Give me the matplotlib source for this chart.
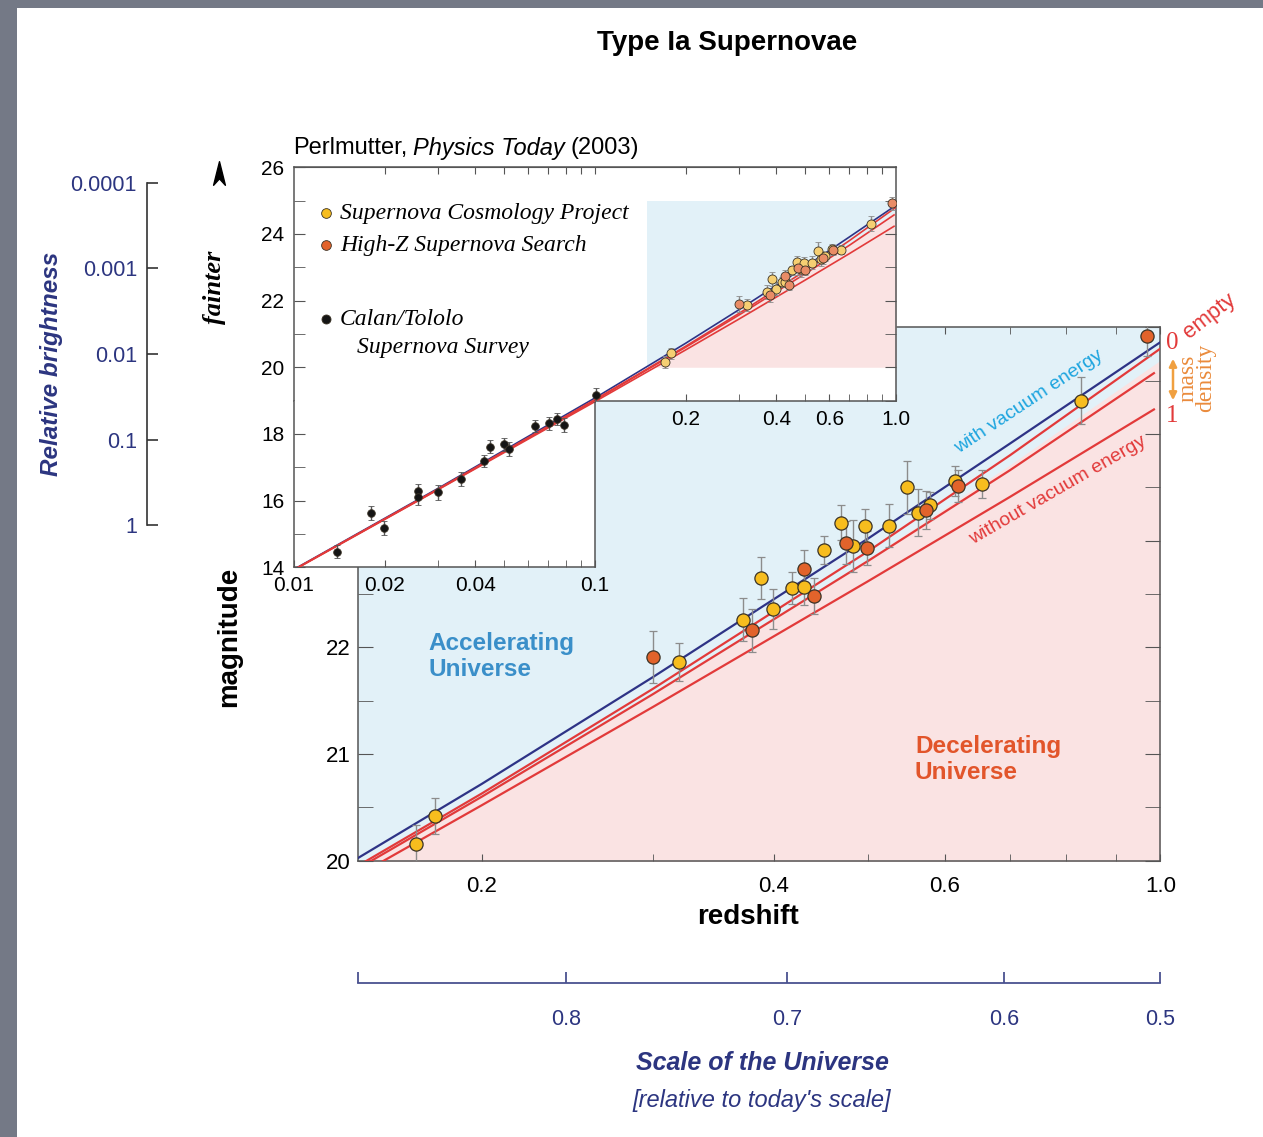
import numpy as np
import matplotlib.pyplot as plt
from matplotlib.lines import Line2D
from matplotlib.patches import Rectangle, FancyArrowPatch
from matplotlib.path import Path
from matplotlib.ticker import NullLocator, NullFormatter

plt.rcParams['font.family'] = ['Liberation Sans', 'DejaVu Sans']

W, H = 1263, 1137

# Supernova Cosmology Project (yellow)
scp_z = [0.171, 0.179, 0.319, 0.372, 0.388, 0.399, 0.417, 0.429, 0.450, 0.469,
         0.482, 0.496, 0.525, 0.549, 0.563, 0.579, 0.614, 0.655, 0.829]
scp_m = [20.16, 20.42, 21.86, 22.26, 22.65, 22.36, 22.56, 22.57, 22.91, 23.17,
         22.95, 23.14, 23.14, 23.50, 23.26, 23.33, 23.56, 23.53, 24.31]
scp_err = [0.17, 0.17, 0.18, 0.20, 0.20, 0.19, 0.15, 0.17, 0.13, 0.16,
           0.24, 0.16, 0.20, 0.25, 0.22, 0.13, 0.14, 0.13, 0.22]

# High-Z Supernova Search (orange)
hz_z = [0.300, 0.380, 0.429, 0.440, 0.474, 0.499, 0.573, 0.619, 0.969]
hz_m = [21.91, 22.16, 22.73, 22.48, 22.98, 22.93, 23.29, 23.51, 24.92]
hz_err = [0.24, 0.20, 0.18, 0.17, 0.20, 0.16, 0.18, 0.15, 0.19]

# Calan/Tololo Supernova Survey (black)
ct_z = [0.0139, 0.0180, 0.0199, 0.0258, 0.0258, 0.0300, 0.0359, 0.0428,
        0.0449, 0.0498, 0.0518, 0.0631, 0.0706, 0.0750, 0.0789, 0.1006]
ct_m = [14.47, 15.62, 15.19, 16.29, 16.10, 16.25, 16.65, 17.20,
        17.62, 17.69, 17.55, 18.24, 18.32, 18.44, 18.27, 19.17]
ct_err = [0.20, 0.21, 0.21, 0.21, 0.24, 0.22, 0.22, 0.18,
          0.20, 0.20, 0.20, 0.18, 0.19, 0.18, 0.20, 0.22]

# model curves
model_z = [0.01, 0.03, 0.1, 0.2, 0.3, 0.5, 0.7, 1.0]
vacuum_m = [13.94, 16.36, 19.08, 20.72, 21.72, 23.02, 23.91, 24.86]
empty_m = [13.93, 16.34, 19.03, 20.63, 21.61, 22.90, 23.80, 24.80]
short_z = [0.01, 0.03, 0.1, 0.2, 0.3, 0.5, 0.7, 0.985]
halfmass_m = [13.93, 16.33, 19.01, 20.60, 21.56, 22.81, 23.66, 24.57]
fullmass_m = [13.92, 16.32, 18.97, 20.52, 21.44, 22.62, 23.41, 24.23]

# accelerating / decelerating boundary
edge_z = [0.149, 0.2, 0.3, 0.5, 0.7, 1.0]
edge_m = [19.94, 20.60, 21.56, 22.83, 23.71, 24.69]

main_zlim = (0.149, 1.0)
main_mlim = (20, 25)
main_zticks = [0.2, 0.4, 0.6, 1.0]
main_zlabels = ['0.2', '0.4', '0.6', '1.0']
main_zminor = [0.3, 0.5, 0.7, 0.8, 0.9]
main_mticks = [20, 21, 22, 23, 24, 25]
main_mlabels = ['20', '21', '22', '', '', '']  # 23-25 sit behind the inset
main_mminor = [20.5, 21.5, 22.5, 23.5, 24.5]

lo_zticks = [0.01, 0.02, 0.04, 0.1]
lo_zlabels = ['0.01', '0.02', '0.04', '0.1']
lo_zminor = [0.03, 0.05, 0.06, 0.07, 0.08, 0.09]
top_zticks = [0.02, 0.03, 0.04, 0.05, 0.06, 0.07, 0.08, 0.09, 0.1,
              0.2, 0.3, 0.4, 0.5, 0.6, 0.7, 0.8, 0.9]

brightness = [1, 0.1, 0.01, 0.001, 0.0001]
brightness_labels = ['1', '0.1', '0.01', '0.001', '0.0001']

scale_z = [0.244, 0.413, 0.69, 1.0]
scale_labels = ['0.8', '0.7', '0.6', '0.5']

SKY = '#e2f1f8'
PINK = '#fae3e3'
BLUE = '#2e3386'
RED = '#e23a3a'
NAVY = '#2c3580'
SPINE = '#555555'
YEL = '#f7bd1e'
ORA = '#e2632b'
YEL_PALE = '#f6cf72'
ORA_PALE = '#e98c66'


def fx(x):
    return x / W


def fy(y):
    return 1 - y / H


def draw_models(ax, lw):
    ax.plot(model_z, vacuum_m, color=BLUE, lw=lw, zorder=3)
    ax.plot(model_z, empty_m, color=RED, lw=lw, zorder=3)
    ax.plot(short_z, halfmass_m, color=RED, lw=lw, zorder=3)
    ax.plot(short_z, fullmass_m, color=RED, lw=lw, zorder=3)


def draw_points(ax, z, m, err, face, ms, mew, cap, ecol='#8c8c8c'):
    ax.errorbar(z, m, yerr=err, fmt='o', ms=ms, mfc=face, mec='#3b3326',
                mew=mew, ecolor=ecol, elinewidth=1.0, capsize=cap,
                capthick=1.0, zorder=4)


fig = plt.figure(figsize=(W / 100, H / 100), dpi=100)
fig.patch.set_facecolor('#747986')
fig.add_artist(Rectangle((fx(17), 0), 1 - fx(17), fy(8), transform=fig.transFigure,
                         facecolor='white', edgecolor='none', zorder=-10))

# ---------------- main plot ----------------
ML, MR, MT, MB = 357.7, 1160.3, 327.3, 860.7
ax = fig.add_axes([fx(ML), fy(MB), (MR - ML) / W, (MB - MT) / H])
ax.set_facecolor(SKY)
ax.set_xscale('log')
ax.set_xlim(main_zlim)
ax.set_ylim(main_mlim)
ax.fill_between(edge_z, 19, edge_m, color=PINK, lw=0, zorder=1)
draw_models(ax, 1.6)
draw_points(ax, scp_z, scp_m, scp_err, YEL, 9.5, 0.9, 3)
draw_points(ax, hz_z, hz_m, hz_err, ORA, 9.5, 0.9, 3)
ax.set_xticks(main_zticks, labels=main_zlabels)
ax.set_xticks(main_zminor, minor=True)
ax.xaxis.set_minor_formatter(NullFormatter())
ax.set_yticks(main_mticks, labels=main_mlabels)
ax.set_yticks(main_mminor, minor=True)
ax.tick_params(axis='x', which='both', direction='in', top=True, length=5,
               labelsize=16, pad=11, color=SPINE)
ax.tick_params(axis='y', which='both', direction='in', right=True, length=11,
               labelsize=16, pad=5, color=SPINE)
for s in ax.spines.values():
    s.set_color(SPINE)
    s.set_linewidth(1.1)

# ---------------- inset (L shaped) ----------------
IL, IR, IT, IM, IB, ILR = 294, 896, 167.3, 400.6, 567.3, 595
ax_hi = fig.add_axes([fx(IL), fy(IM), (IR - IL) / W, (IM - IT) / H])
ax_lo = fig.add_axes([fx(IL), fy(IB), (ILR - IL) / W, (IB - IM) / H])
for a, zl, ml in [(ax_hi, (0.01, 1.0), (19, 26)), (ax_lo, (0.01, 0.1), (14, 19))]:
    a.set_facecolor('white')
    a.set_xscale('log')
    a.set_xlim(zl)
    a.set_ylim(ml)
    draw_models(a, 1.2)
    draw_points(a, scp_z, scp_m, scp_err, YEL_PALE, 6.5, 0.6, 2)
    draw_points(a, hz_z, hz_m, hz_err, ORA_PALE, 6.5, 0.6, 2)
    draw_points(a, ct_z, ct_m, ct_err, '#151515', 5.5, 0.6, 2, ecol='#555555')
    for s in a.spines.values():
        s.set_color(SPINE)
        s.set_linewidth(1.1)

ax_hi.fill_between([main_zlim[0], main_zlim[1]], main_mlim[0], main_mlim[1],
                   color=SKY, lw=0, zorder=1)
ax_hi.fill_between(edge_z, main_mlim[0], np.clip(edge_m, *main_mlim),
                   color=PINK, lw=0, zorder=1)
ax_hi.spines['bottom'].set_bounds(0.1, 1.0)
ax_hi.set_xticks(main_zticks, labels=main_zlabels)
ax_hi.set_xticks(main_zminor, minor=True)
ax_hi.xaxis.set_minor_formatter(NullFormatter())
ax_hi.set_yticks([20, 22, 24, 26], labels=['20', '22', '24', '26'])
ax_hi.set_yticks([19, 21, 23, 25], minor=True)
ax_hi.tick_params(axis='x', which='both', direction='in', length=5, labelsize=15,
                  pad=7, color=SPINE)
ax_hi.tick_params(axis='y', which='both', direction='in', right=True, length=8,
                  labelsize=15, pad=7, color=SPINE)
top = ax_hi.secondary_xaxis('top')
top.set_xticks(top_zticks, labels=['' for t in top_zticks])
top.xaxis.set_minor_locator(NullLocator())
top.tick_params(direction='in', length=5, color=SPINE)
top.spines['top'].set_color(SPINE)

ax_lo.spines['top'].set_visible(False)
ax_lo.set_xticks(lo_zticks, labels=lo_zlabels)
ax_lo.set_xticks(lo_zminor, minor=True)
ax_lo.xaxis.set_minor_formatter(NullFormatter())
ax_lo.set_yticks([14, 16, 18], labels=['14', '16', '18'])
ax_lo.set_yticks([15, 17], minor=True)
ax_lo.tick_params(axis='x', which='both', direction='in', length=5, labelsize=15,
                  pad=6, color=SPINE)
ax_lo.tick_params(axis='y', which='both', direction='in', length=8, labelsize=15,
                  pad=7, color=SPINE)

# inset legend
leg = [(213, YEL, 'Supernova Cosmology Project', 7.0),
       (245, ORA, 'High-Z Supernova Search', 7.0),
       (319, '#151515', 'Calan/Tololo', 6.5)]
for y, c, label, ms in leg:
    fig.add_artist(Line2D([fx(326)], [fy(y)], marker='o', ms=ms, mfc=c, mec='#3b3326',
                          mew=0.6, transform=fig.transFigure))
    fig.text(fx(340), fy(y), label, fontsize=17, family='Liberation Serif',
             style='italic', va='center', ha='left')
fig.text(fx(357), fy(347), 'Supernova Survey', fontsize=17, family='Liberation Serif',
         style='italic', va='center', ha='left')

# ---------------- relative brightness scale ----------------
ax_b = fig.add_axes([fx(146.7), fy(525), 0.02, (525 - 183) / H])
ax_b.patch.set_visible(False)
ax_b.set_yscale('log')
ax_b.set_ylim(1, 1e-4)
for s in ['top', 'right', 'bottom']:
    ax_b.spines[s].set_visible(False)
ax_b.spines['left'].set_color('#333333')
ax_b.spines['left'].set_linewidth(1.2)
ax_b.set_xticks([])
ax_b.set_yticks(brightness, labels=brightness_labels)
ax_b.yaxis.set_minor_locator(NullLocator())
ax_b.tick_params(axis='y', direction='in', length=8, width=1.2, color='#333333',
                 labelcolor=NAVY, labelsize=15.5, pad=7)

# ---------------- scale of the universe ----------------
ax_s = fig.add_axes([fx(ML), fy(983), (MR - ML) / W, 0.0001])
ax_s.patch.set_visible(False)
ax_s.set_xscale('log')
ax_s.set_xlim(main_zlim)
for s in ['top', 'right', 'left']:
    ax_s.spines[s].set_visible(False)
ax_s.spines['bottom'].set_color('#4a5290')
ax_s.spines['bottom'].set_linewidth(1.3)
ax_s.set_yticks([])
ax_s.set_xticks([main_zlim[0]] + scale_z, labels=[''] + scale_labels)
ax_s.xaxis.set_minor_locator(NullLocator())
ax_s.tick_params(axis='x', direction='in', length=8, width=1.3, color='#4a5290',
                 labelcolor=NAVY, labelsize=15.5, pad=19)

# ---------------- texts ----------------
fig.text(fx(727), fy(43), 'Type Ia Supernovae', fontsize=20, weight='bold',
         ha='center', va='center')

r = fig.canvas.get_renderer()
inv = fig.transFigure.inverted()
t1 = fig.text(fx(293), fy(148), 'Perlmutter,', fontsize=17, va='center', ha='left')
x1 = inv.transform(t1.get_window_extent(r))[1][0] + 6 / W
t2 = fig.text(x1, fy(148), 'Physics Today', fontsize=17, style='italic',
              va='center', ha='left')
x2 = inv.transform(t2.get_window_extent(r))[1][0] + 6 / W
fig.text(x2, fy(148), '(2003)', fontsize=17, va='center', ha='left')

fig.text(fx(52), fy(364), 'Relative brightness', fontsize=17.5, weight='bold',
         style='italic', color=NAVY, rotation=90, ha='center', va='center')
fig.text(fx(214), fy(287), 'fainter', fontsize=19, weight='bold', style='italic',
         family='Liberation Serif', rotation=90, ha='center', va='center')
head = Path([(0, 1), (0.5, -1), (0, -0.45), (-0.5, -1), (0, 1)],
            [Path.MOVETO, Path.LINETO, Path.LINETO, Path.LINETO, Path.CLOSEPOLY])
fig.add_artist(Line2D([fx(218.8)], [fy(173)], marker=head, ms=17, mfc='black',
                      mec='black', transform=fig.transFigure))

fig.text(fx(229), fy(637), 'magnitude', fontsize=20, weight='bold', rotation=90,
         ha='center', va='center')
fig.text(fx(748), fy(917), 'redshift', fontsize=20, weight='bold',
         ha='center', va='center')

fig.text(fx(428), fy(656.5), 'Accelerating\nUniverse', fontsize=17.5, weight='bold',
         color='#3a8fc9', ha='left', va='center', linespacing=1.15)
fig.text(fx(915), fy(759.5), 'Decelerating\nUniverse', fontsize=17.5, weight='bold',
         color='#e2552b', ha='left', va='center', linespacing=1.15)

fig.text(fx(1029), fy(402), 'with vacuum energy', fontsize=14, color='#1ea5df',
         rotation=33.5, rotation_mode='anchor', ha='center', va='center')
fig.text(fx(1058), fy(490), 'without vacuum energy', fontsize=14, color=RED,
         rotation=30, rotation_mode='anchor', ha='center', va='center')

fig.text(fx(1172), fy(343), '0', fontsize=18, family='Liberation Serif', color=RED,
         ha='center', va='center')
fig.text(fx(1172), fy(416), '1', fontsize=18, family='Liberation Serif', color=RED,
         ha='center', va='center')
fig.text(fx(1209), fy(316), 'empty', fontsize=16, color=RED, rotation=38,
         rotation_mode='anchor', ha='center', va='center')
fig.add_artist(FancyArrowPatch((fx(1173), fy(356)), (fx(1173), fy(403)),
                               transform=fig.transFigure, arrowstyle='<|-|>',
                               mutation_scale=11, color='#f0a040', lw=1.8))
fig.text(fx(1197), fy(378), 'mass\ndensity', fontsize=17, family='Liberation Serif',
         color='#ea8b3c', rotation=90, ha='center', va='center', linespacing=0.8)

fig.text(fx(762), fy(1063), 'Scale of the Universe', fontsize=18, weight='bold',
         style='italic', color=NAVY, ha='center', va='center')
fig.text(fx(762), fy(1100), "[relative to today's scale]", fontsize=17,
         style='italic', color=NAVY, ha='center', va='center')

fig.savefig('out.png', dpi=100, facecolor=fig.get_facecolor())
